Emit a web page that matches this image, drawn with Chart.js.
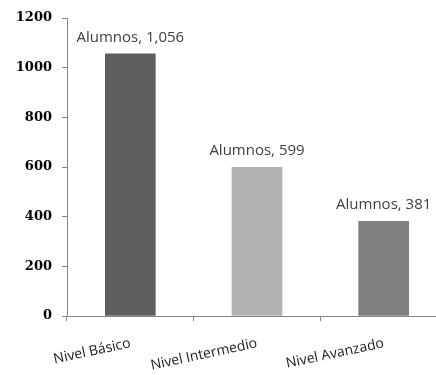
<!DOCTYPE html>
<html>
<head>
<meta charset="utf-8">
<script src="https://cdn.jsdelivr.net/npm/chart.js@4/dist/chart.umd.min.js"></script>
<style>
  html, body { margin: 0; padding: 0; background: #fff; overflow: hidden; }
  #wrap { width: 448px; height: 375px; }
</style>
</head>
<body>
<div id="wrap"><canvas id="chart"></canvas></div>
<script>
// --- Data ---
const levels = ['Nivel Básico', 'Nivel Intermedio', 'Nivel Avanzado'];
const students = [1056, 599, 381];
const barColors = ['#5f5f5f', '#b2b2b2', '#7f7f7f'];
const seriesName = 'Alumnos';
const yTicks = [0, 200, 400, 600, 800, 1000, 1200];

// --- Value labels above bars ---
const barLabels = {
    id: 'barLabels',
    afterDatasetsDraw(chart) {
        const ctx = chart.ctx;
        const meta = chart.getDatasetMeta(0);
        ctx.save();
        ctx.font = '15px "Open Sans", sans-serif';
        ctx.fillStyle = '#404040';
        ctx.textAlign = 'center';
        ctx.textBaseline = 'alphabetic';
        meta.data.forEach((bar, i) => {
            const txt = seriesName + ', ' + students[i].toLocaleString('en-US');
            ctx.fillText(txt, bar.x, bar.y - 12);
        });
        ctx.restore();
    }
};

const ctx = document.getElementById('chart').getContext('2d');
new Chart(ctx, {
    type: 'bar',
    data: {
        labels: levels,
        datasets: [{ data: students, backgroundColor: barColors, barThickness: 50 }]
    },
    options: {
        responsive: true,
        maintainAspectRatio: false,
        animation: false,
        layout: { padding: { top: 18, right: 1, left: 0, bottom: 0 } },
        plugins: { legend: { display: false }, tooltip: { enabled: false } },
        scales: {
            x: {
                grid: { display: true, drawOnChartArea: false, offset: true, color: '#868686', tickLength: 5 },
                border: { color: '#868686' },
                ticks: {
                    minRotation: 12, maxRotation: 12, padding: 14,
                    color: '#1a1a1a',
                    font: { family: '"Open Sans", sans-serif', size: 14 }
                },
                afterFit(scale) { scale.height = 59; }
            },
            y: {
                min: 0, max: 1200,
                afterBuildTicks(scale) { scale.ticks = yTicks.map(v => ({ value: v })); },
                grid: { display: true, drawOnChartArea: false, color: '#868686', tickLength: 5 },
                border: { color: '#868686' },
                ticks: {
                    padding: 10, color: '#000',
                    font: { family: '"DejaVu Serif", serif', size: 13, weight: 'bold' },
                    callback: v => String(v)
                },
                afterFit(scale) { scale.width = 67; }
            }
        }
    },
    plugins: [barLabels]
});
</script>
</body>
</html>
